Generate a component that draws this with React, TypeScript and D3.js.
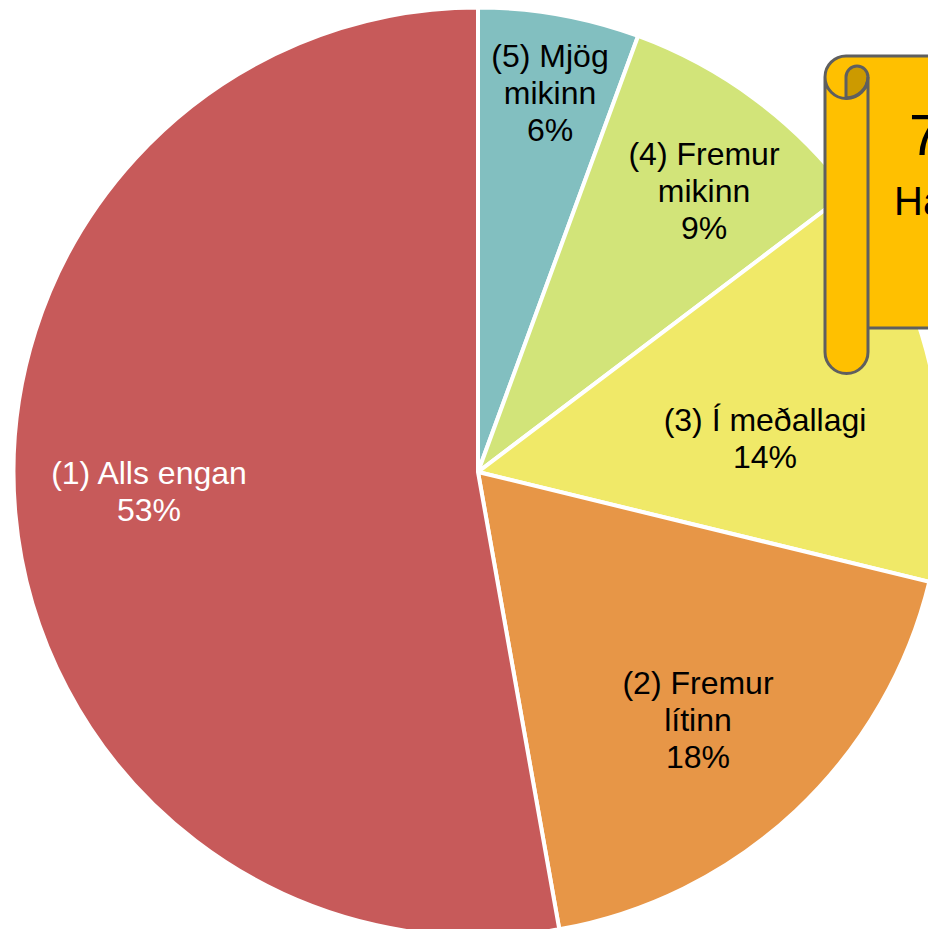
import React from "react";
import * as d3 from "d3";

const categories = ["(5) Mjög mikinn", "(4) Fremur mikinn", "(3) Í meðallagi", "(2) Fremur lítinn", "(1) Alls engan"];
const values = [5.6, 9.1, 14.1, 18.4, 52.8];
const percentLabels = ["6%", "9%", "14%", "18%", "53%"];
const colors = ["#82BFC0", "#D2E479", "#F0E968", "#E79647", "#C75A5A"];
const labelLines = [
  ["(5) Mjög", "mikinn"],
  ["(4) Fremur", "mikinn"],
  ["(3) Í meðallagi"],
  ["(2) Fremur", "lítinn"],
  ["(1) Alls engan"],
];
const labelCenters: [number, number][] = [[550, 57], [704, 155], [765, 421], [698, 684], [149, 474]];
const labelColors = ["#000", "#000", "#000", "#000", "#fff"];

const cx = 478, cy = 472, R = 464.5;

export default function App() {
  const pie = d3.pie<number>().sort(null).value((d) => d);
  const arc = d3.arc<d3.PieArcDatum<number>>().innerRadius(0).outerRadius(R);
  const arcs = pie(values);
  const font = "'Liberation Sans', Arial, sans-serif";
  const stroke = "#5F5F5F";
  return (
    <svg width={928} height={929} style={{ position: "absolute", left: 0, top: 0, display: "block" }} fontFamily={font}>
      <g transform={`translate(${cx},${cy})`}>
        {arcs.map((a, i) => (
          <path key={i} d={arc(a) || ""} fill={colors[i]} stroke="#fff" strokeWidth={4} />
        ))}
      </g>
      {categories.map((c, i) => (
        <text key={c} textAnchor="middle" fontSize={32} fill={labelColors[i]}>
          {[...labelLines[i], percentLabels[i]].map((t, j) => (
            <tspan key={j} x={labelCenters[i][0]} y={labelCenters[i][1] + 10 + j * 37}>{t}</tspan>
          ))}
        </text>
      ))}
      <path
        d="M868,328 H940 V56 H846 A21,21 0 0 0 825,77 V352 A21.5,21.5 0 0 0 868,352 V77 A21.5,21.5 0 0 1 825,77 Z"
        fill="#FFC000"
      />
      <path d="M846,98 V77 A11,11 0 0 1 868,77 A22,22 0 0 1 846,98 Z" fill="#CC9A00" stroke={stroke} strokeWidth={3} />
      <path
        d="M868,328 H940 M940,56 H846 A21,21 0 0 0 825,77 V352 A21.5,21.5 0 0 0 868,352 V77 M825,77 A21.5,21.5 0 0 0 868,77"
        fill="none"
        stroke={stroke}
        strokeWidth={3}
      />
      <text x={909} y={155} fontSize={58} fill="#000">7</text>
      <text x={894} y={215} fontSize={40} fill="#000">Ha</text>
    </svg>
  );
}
